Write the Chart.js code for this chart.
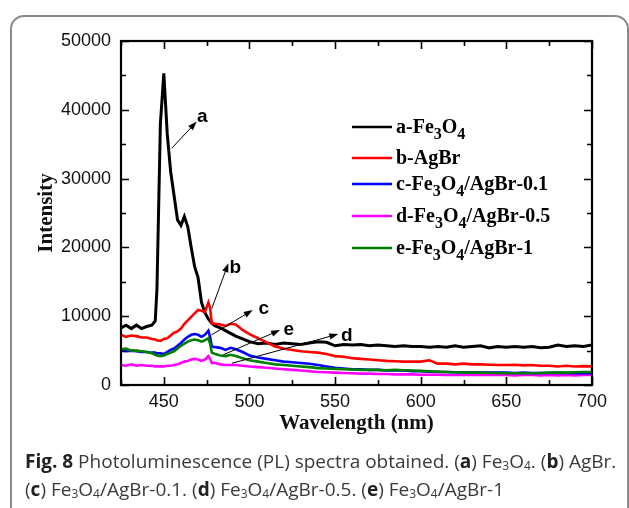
<!DOCTYPE html>
<html>
<head>
<meta charset="utf-8">
<script src="https://cdn.jsdelivr.net/npm/chart.js@4.4.1/dist/chart.umd.min.js"></script>
<style>
  body { margin: 0; background: #fff; width: 629px; height: 508px; overflow: hidden; position: relative; }
  #frame { position: absolute; left: 10px; top: 15px; width: 615px; height: 520px; border: 2px solid #8a8a8a; border-radius: 14px; }
  #grafico { position: absolute; left: 0; top: 0; }
  #legenda { position: absolute; left: 25px; top: 447px; width: 604px; font-family: "Open Sans", sans-serif; font-size: 19px; line-height: 28px; color: #3a3a3a; white-space: nowrap; }
  #legenda b { color: #222; }
  #legenda sub { font-size: 12px; vertical-align: -2px; line-height: 0; }
</style>
</head>
<body>
<div id="frame"></div>
<canvas id="grafico" width="629" height="508"></canvas>
<div id="legenda"><b>Fig. 8</b> Photoluminescence (PL) spectra obtained. (<b>a</b>) Fe<sub>3</sub>O<sub>4</sub>. (<b>b</b>) AgBr.<br>(<b>c</b>) Fe<sub>3</sub>O<sub>4</sub>/AgBr-0.1. (<b>d</b>) Fe<sub>3</sub>O<sub>4</sub>/AgBr-0.5. (<b>e</b>) Fe<sub>3</sub>O<sub>4</sub>/AgBr-1</div>
<script>
// Dados (comprimento de onda em nm)
const wavelength = [425, 428, 431, 434, 437, 440, 443, 445, 446, 448, 450, 452, 454, 456, 458, 460, 462, 464, 466, 468, 470, 472, 474, 476, 477, 478, 480, 483, 486, 489, 492, 496, 500,
  505, 510, 515, 520, 525, 530, 535, 540, 545, 550, 555, 560, 565, 570, 575, 580, 585, 590, 595, 600, 605, 610, 615, 620, 625, 630, 635, 640, 645, 650, 655, 660, 665, 670, 675, 680, 685, 690, 695, 700];

const serieA = [8300, 8700, 8200, 8700, 8200, 8500, 8700, 9300, 14000, 38000, 45300, 36500, 31000, 27500, 24000, 23200, 24500, 23000, 20000, 17200, 15600, 12000, 10500, 9600, 9300, 9000, 8600, 8300, 7900, 7500, 7100, 6700, 6300,
  6000, 6100, 5900, 6100, 6000, 5900, 6100, 6300, 6200, 5700, 5900, 5800, 5900, 5700, 5800, 5700, 5600, 5700, 5600, 5600, 5500, 5600, 5500, 5700, 5500, 5600, 5700, 5400, 5600, 5500, 5600, 5500, 5600, 5400, 5500, 5800, 5600, 5700, 5600, 5800];
const serieB = [7300, 7000, 7200, 7100, 6900, 6900, 6700, 6600, 6500, 6400, 6700, 6800, 7200, 7600, 7800, 8200, 8900, 9400, 9900, 10400, 10900, 10800, 10600, 12000, 11200, 9000, 8900, 8800, 8600, 8900, 8800, 8000, 7400,
  6800, 6200, 5600, 5300, 5100, 4900, 4800, 4700, 4500, 4200, 4100, 3900, 3800, 3700, 3600, 3500, 3450, 3400, 3400, 3400, 3600, 3100, 3100, 3000, 3100, 3000, 3000, 2950, 2900, 2900, 2950, 2850, 2900, 2800, 2800, 2700, 2800, 2700, 2750, 2700];
const serieC = [5100, 4900, 5000, 4900, 4800, 4800, 4700, 4700, 4600, 4600, 4500, 4800, 5100, 5300, 5700, 6100, 6600, 7000, 7300, 7400, 7300, 7000, 7300, 7900, 7000, 5600, 5500, 5400, 5100, 5400, 5200, 4800, 4300,
  4000, 3800, 3600, 3400, 3300, 3200, 3100, 2900, 2700, 2500, 2400, 2300, 2300, 2200, 2200, 2100, 2100, 2100, 2000, 2000, 1950, 1900, 1900, 1850, 1850, 1800, 1800, 1800, 1800, 1800, 1750, 1800, 1750, 1750, 1750, 1800, 1750, 1700, 1700, 1700];
const serieD = [2900, 2800, 3000, 2800, 2900, 2800, 2800, 2700, 2700, 2700, 2700, 2800, 2800, 2900, 3000, 3200, 3400, 3500, 3700, 3800, 3700, 3500, 3700, 4200, 3800, 3200, 3200, 3000, 2900, 2900, 2900, 2800, 2700,
  2600, 2500, 2400, 2300, 2200, 2100, 2000, 1900, 1850, 1800, 1750, 1700, 1650, 1650, 1600, 1600, 1550, 1550, 1550, 1500, 1500, 1500, 1450, 1450, 1450, 1450, 1450, 1450, 1450, 1450, 1400, 1450, 1450, 1400, 1450, 1400, 1450, 1400, 1450, 1450];
const serieE = [5200, 5300, 5000, 5000, 4900, 4800, 4600, 4400, 4300, 4200, 4300, 4500, 4700, 4900, 5300, 5700, 6000, 6300, 6500, 6600, 6500, 6300, 6500, 6800, 6000, 4700, 4500, 4300, 4200, 4400, 4200, 3900, 3600,
  3400, 3200, 3000, 2900, 2800, 2700, 2600, 2450, 2400, 2350, 2300, 2250, 2200, 2200, 2200, 2150, 2200, 2150, 2100, 2050, 2000, 1950, 1900, 1850, 1800, 1800, 1800, 1750, 1750, 1700, 1700, 1700, 1700, 1750, 1800, 1800, 1800, 1850, 1900, 1900];

const rotulos = ['a-Fe₃O₄', 'b-AgBr', 'c-Fe₃O₄/AgBr-0.1', 'd-Fe₃O₄/AgBr-0.5', 'e-Fe₃O₄/AgBr-1'];
const letras = ['a', 'b', 'c', 'd', 'e'];
// setas: início, ponta e posição da letra (em nm / intensidade)
const setaInicio = [[454.6, 34400], [478.0, 11100], [478.0, 7300], [489.7, 3150], [484.8, 4400]];
const setaPonta = [[469.2, 38300], [487.7, 17700], [501.9, 10900], [551.9, 7400], [517.9, 8000]];
const setaLetra = [[472.5, 39000], [491.8, 17000], [508.3, 11100], [556.8, 7100], [522.9, 8100]];

const cores = ['#000000', '#ff0000', '#0000ff', '#ff00ff', '#008000'];
const espessuras = [3, 2.6, 2.6, 2.6, 2.6];

// Moldura com ticks para dentro
const molduraPlugin = {
    id: 'moldura',
    afterDatasetsDraw(chart) {
        const {ctx, chartArea: a, scales: {x, y}} = chart;
        ctx.save();
        ctx.strokeStyle = '#000';
        ctx.lineWidth = 1.6;
        x.ticks.forEach(t => {
            const px = Math.round(x.getPixelForValue(t.value)) + 0.5;
            const len = t.value % 50 === 0 ? 8 : 5;
            ctx.beginPath();
            ctx.moveTo(px, a.bottom); ctx.lineTo(px, a.bottom - len);
            ctx.moveTo(px, a.top); ctx.lineTo(px, a.top + len);
            ctx.stroke();
        });
        y.ticks.forEach(t => {
            const py = Math.round(y.getPixelForValue(t.value)) + 0.5;
            const len = t.value % 10000 === 0 ? 8 : 5;
            ctx.beginPath();
            ctx.moveTo(a.left, py); ctx.lineTo(a.left + len, py);
            ctx.moveTo(a.right, py); ctx.lineTo(a.right - len, py);
            ctx.stroke();
        });
        ctx.lineWidth = 2.2;
        ctx.strokeRect(a.left, a.top, a.right - a.left, a.bottom - a.top);

        // setas e letras
        ctx.lineWidth = 1;
        ctx.fillStyle = '#000';
        letras.forEach((l, i) => {
            const x0 = x.getPixelForValue(setaInicio[i][0]), y0 = y.getPixelForValue(setaInicio[i][1]);
            const x1 = x.getPixelForValue(setaPonta[i][0]), y1 = y.getPixelForValue(setaPonta[i][1]);
            const ang = Math.atan2(y1 - y0, x1 - x0);
            ctx.beginPath();
            ctx.moveTo(x0, y0); ctx.lineTo(x1 - 6 * Math.cos(ang), y1 - 6 * Math.sin(ang));
            ctx.stroke();
            ctx.beginPath();
            ctx.moveTo(x1, y1);
            ctx.lineTo(x1 - 9 * Math.cos(ang) + 3.2 * Math.sin(ang), y1 - 9 * Math.sin(ang) - 3.2 * Math.cos(ang));
            ctx.lineTo(x1 - 9 * Math.cos(ang) - 3.2 * Math.sin(ang), y1 - 9 * Math.sin(ang) + 3.2 * Math.cos(ang));
            ctx.closePath();
            ctx.fill();
            ctx.font = 'bold 19px "Liberation Sans", Arial, sans-serif';
            ctx.textAlign = 'center';
            ctx.textBaseline = 'middle';
            ctx.fillText(l, x.getPixelForValue(setaLetra[i][0]), y.getPixelForValue(setaLetra[i][1]));
        });

        // legenda com subscritos
        const linhasY = [127, 158, 184, 216, 248];
        const sub = {'₃': '3', '₄': '4'};
        chart.data.datasets.forEach((ds, i) => {
            const ly = linhasY[i];
            ctx.strokeStyle = ds.borderColor;
            ctx.lineWidth = 2.6;
            ctx.beginPath();
            ctx.moveTo(352, ly); ctx.lineTo(392, ly);
            ctx.stroke();
            ctx.fillStyle = '#000';
            ctx.textAlign = 'left';
            ctx.textBaseline = 'alphabetic';
            let cx = 396;
            for (const ch of ds.label) {
                if (sub[ch]) {
                    ctx.font = 'bold 16px "Liberation Serif", serif';
                    ctx.fillText(sub[ch], cx, ly + 12);
                    cx += ctx.measureText(sub[ch]).width;
                } else {
                    ctx.font = 'bold 20px "Liberation Serif", serif';
                    ctx.fillText(ch, cx, ly + 6);
                    cx += ctx.measureText(ch).width;
                }
            }
        });
        ctx.restore();
    }
};

const ctxGrafico = document.getElementById('grafico').getContext('2d');
const series = [serieA, serieB, serieC, serieD, serieE];
const ordemDesenho = [5, 1, 3, 4, 2];
const grafico = new Chart(ctxGrafico, {
    type: 'line',
    data: {
        datasets: series.map((s, i) => ({
            label: rotulos[i],
            data: wavelength.map((w, j) => ({x: w, y: s[j]})),
            borderColor: cores[i],
            borderWidth: espessuras[i],
            pointRadius: 0,
            tension: 0,
            fill: false,
            order: ordemDesenho[i]
        }))
    },
    options: {
        responsive: false,
        animation: false,
        devicePixelRatio: 1,
        layout: { padding: { top: 41, right: 37, left: 0, bottom: 68 } },
        plugins: { legend: { display: false }, tooltip: { enabled: false } },
        scales: {
            x: {
                type: 'linear',
                min: 425, max: 700,
                grid: { display: false, drawTicks: false },
                border: { display: false },
                ticks: {
                    stepSize: 25,
                    padding: 6,
                    color: '#111',
                    font: { family: '"Liberation Sans", Arial, sans-serif', size: 18 },
                    callback: v => v % 50 === 0 ? v : ''
                },
                title: {
                    display: true,
                    text: 'Wavelength (nm)',
                    color: '#111',
                    font: { family: '"Liberation Serif", serif', size: 21, weight: 'bold' },
                    padding: { top: 0, bottom: 4 }
                },
                afterFit: s => { s.height = 55; }
            },
            y: {
                min: 0, max: 50000,
                grid: { display: false, drawTicks: false },
                border: { display: false },
                ticks: {
                    stepSize: 5000,
                    padding: 10,
                    color: '#111',
                    font: { family: '"Liberation Sans", Arial, sans-serif', size: 18 },
                    callback: v => v % 10000 === 0 ? v : ''
                },
                title: {
                    display: true,
                    text: 'Intensity',
                    color: '#111',
                    font: { family: '"Liberation Serif", serif', size: 21, weight: 'bold' },
                    padding: { top: 34, bottom: 0 }
                },
                afterFit: s => { s.width = 121; }
            }
        }
    },
    plugins: [molduraPlugin]
});
</script>
</body>
</html>
